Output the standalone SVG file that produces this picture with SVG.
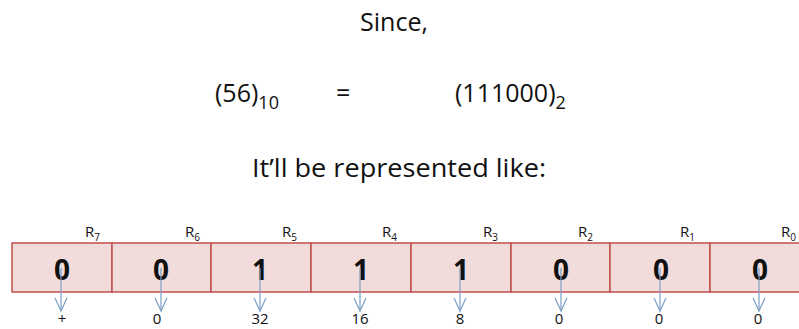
<svg xmlns="http://www.w3.org/2000/svg" width="799" height="329" viewBox="0 0 799 329">
<defs>
<marker id="ah" markerWidth="16" markerHeight="14" refX="14" refY="7" orient="auto" markerUnits="userSpaceOnUse" viewBox="0 0 16 14">
<path d="M1,1 L14,7 L1,13" fill="none" stroke="#7c9fc7" stroke-width="1.2"/>
</marker>
</defs>
<style>
text{font-family:"Open Sans","Liberation Sans",Arial,sans-serif;fill:#111}
.t{font-size:25px}
.r{font-size:15px}
.rs{font-size:10px}
.d{font-size:28px;font-weight:bold;text-anchor:middle}
.v{font-size:15px;text-anchor:middle}
.box{fill:#f2dcdb;stroke:#c0504d;stroke-width:1.5}
.arr{stroke:#7c9fc7;stroke-width:1.2;marker-end:url(#ah)}
</style>
<rect width="799" height="329" fill="#fff"/>
<text class="t" x="360" y="31" textLength="68" lengthAdjust="spacingAndGlyphs">Since,</text>
<text class="t" x="215" y="102">(56)<tspan font-size="18" dy="7">10</tspan></text>
<text class="t" x="336" y="102">=</text>
<text class="t" x="455" y="102">(111000)<tspan font-size="18" dy="7">2</tspan></text>
<text class="t" x="252" y="177" textLength="294" lengthAdjust="spacingAndGlyphs">It’ll be represented like:</text>
<g id="b7"><rect class="box" x="12" y="243" width="100" height="49"/><text class="d" x="62" y="280">0</text><text class="r" x="85" y="237">R<tspan class="rs" dy="4">7</tspan></text></g>
<g id="b6"><rect class="box" x="112" y="243" width="99" height="49"/><text class="d" x="161" y="280">0</text><text class="r" x="185" y="237">R<tspan class="rs" dy="4">6</tspan></text></g>
<g id="b5"><rect class="box" x="211" y="243" width="100" height="49"/><text class="d" x="260" y="280">1</text><text class="r" x="282" y="237">R<tspan class="rs" dy="4">5</tspan></text></g>
<g id="b4"><rect class="box" x="311" y="243" width="100" height="49"/><text class="d" x="361" y="280">1</text><text class="r" x="382" y="237">R<tspan class="rs" dy="4">4</tspan></text></g>
<g id="b3"><rect class="box" x="411" y="243" width="100" height="49"/><text class="d" x="461" y="280">1</text><text class="r" x="483" y="237">R<tspan class="rs" dy="4">3</tspan></text></g>
<g id="b2"><rect class="box" x="511" y="243" width="99" height="49"/><text class="d" x="561" y="280">0</text><text class="r" x="578" y="237">R<tspan class="rs" dy="4">2</tspan></text></g>
<g id="b1"><rect class="box" x="610" y="243" width="100" height="49"/><text class="d" x="661" y="280">0</text><text class="r" x="680" y="237">R<tspan class="rs" dy="4">1</tspan></text></g>
<g id="b0"><rect class="box" x="710" y="243" width="100" height="49"/><text class="d" x="760" y="280">0</text><text class="r" x="781" y="237">R<tspan class="rs" dy="4">0</tspan></text></g>
<g id="connectors">
<line class="arr" x1="61" y1="268" x2="61" y2="311"/>
<line class="arr" x1="161" y1="268" x2="161" y2="311"/>
<line class="arr" x1="260" y1="268" x2="260" y2="311"/>
<line class="arr" x1="360" y1="268" x2="360" y2="311"/>
<line class="arr" x1="460" y1="268" x2="460" y2="311"/>
<line class="arr" x1="561" y1="268" x2="561" y2="311"/>
<line class="arr" x1="660" y1="268" x2="660" y2="311"/>
<line class="arr" x1="759" y1="268" x2="759" y2="311"/>
</g>
<text class="v" x="62" y="324">+</text>
<text class="v" x="157" y="324">0</text>
<text class="v" x="260" y="324">32</text>
<text class="v" x="360" y="324">16</text>
<text class="v" x="460" y="324">8</text>
<text class="v" x="559" y="324">0</text>
<text class="v" x="659" y="324">0</text>
<text class="v" x="758" y="324">0</text>
</svg>
